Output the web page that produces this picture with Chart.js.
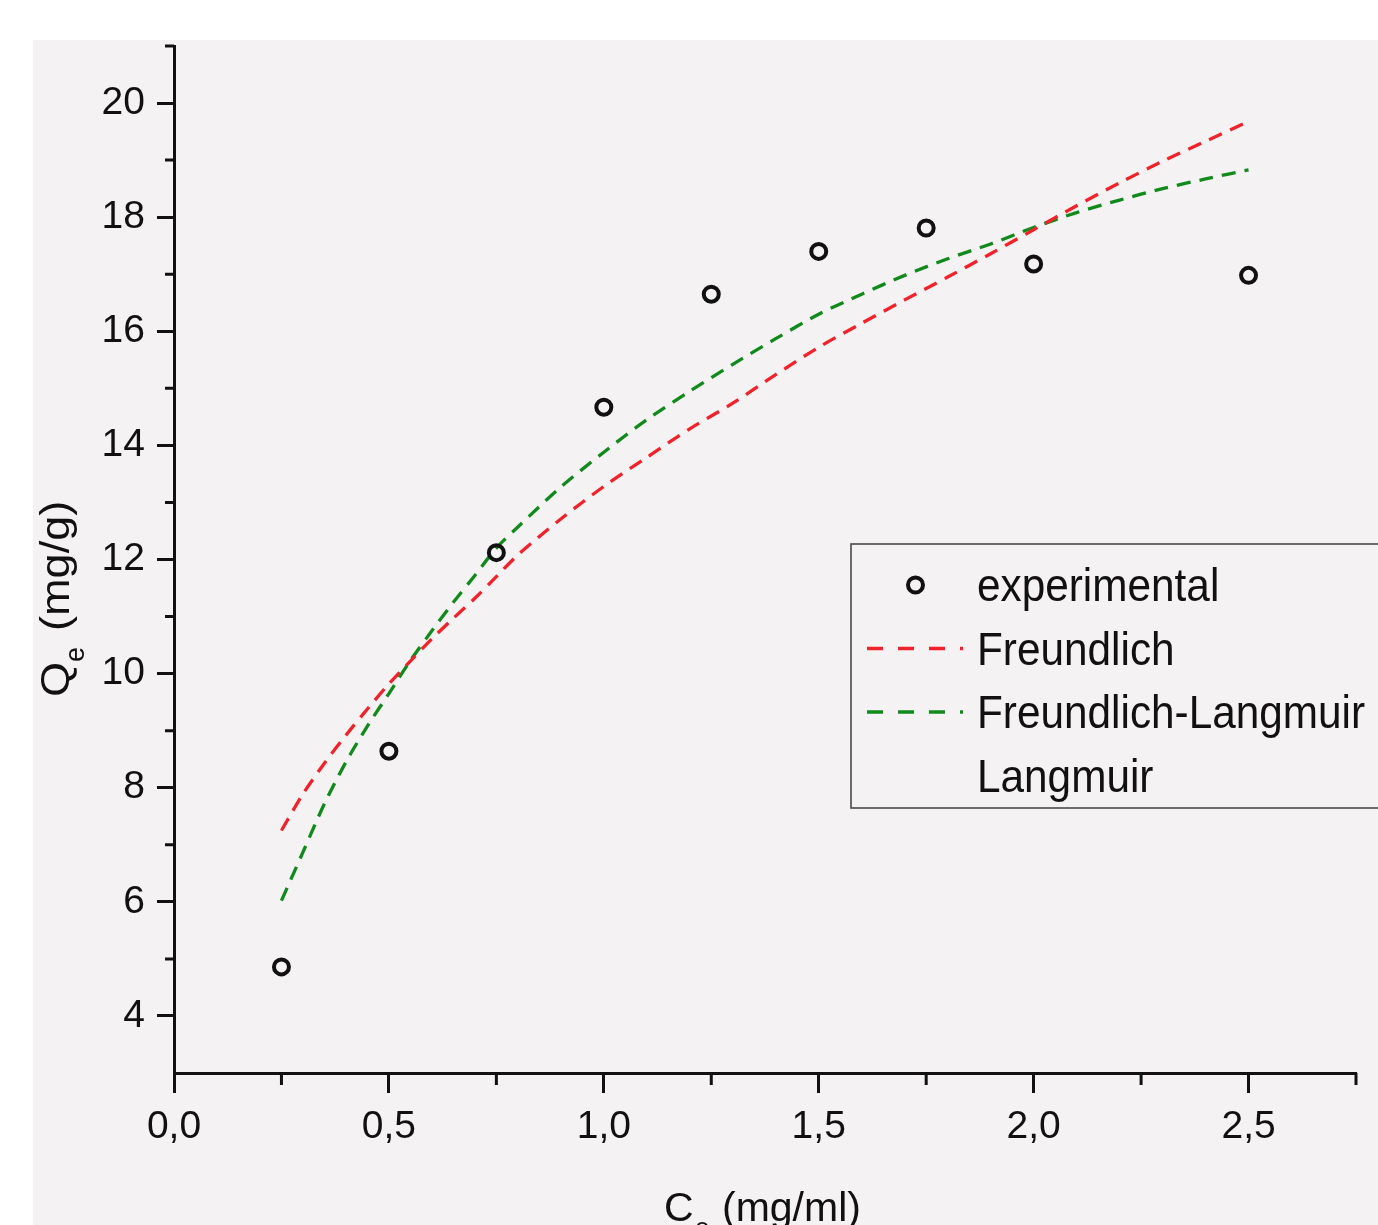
<!DOCTYPE html>
<html><head><meta charset="utf-8">
<style>html,body{margin:0;padding:0;background:#fff;overflow:hidden}canvas{display:block}</style>
<script src="https://cdn.jsdelivr.net/npm/chart.js@4.4.1/dist/chart.umd.min.js"></script>
</head><body>
<canvas id="c" width="1378" height="1225" style="width:1378px;height:1225px"></canvas>
<script>
// ---- data ----
const expC = [0.25, 0.5, 0.75, 1.0, 1.25, 1.5, 1.75, 2.0, 2.5];
const expQ = [4.86, 8.64, 12.12, 14.67, 16.65, 17.40, 17.81, 17.18, 16.98];

const fitC = [0.25, 0.30, 0.35, 0.40, 0.45, 0.50, 0.55, 0.60, 0.65, 0.70, 0.75, 0.80, 0.90, 1.00, 1.10, 1.20, 1.30, 1.40, 1.50, 1.60, 1.70, 1.80, 1.90, 2.00, 2.10, 2.20, 2.30, 2.40, 2.50];
const freundlichQ = [7.25, 7.89, 8.43, 8.92, 9.38, 9.82, 10.22, 10.61, 10.97, 11.32, 11.70, 12.08, 12.71, 13.28, 13.79, 14.29, 14.74, 15.24, 15.72, 16.14, 16.55, 16.95, 17.36, 17.78, 18.20, 18.60, 18.98, 19.33, 19.68];
const freundlichLangmuirQ = [6.02, 6.87, 7.72, 8.45, 9.08, 9.65, 10.23, 10.75, 11.25, 11.72, 12.20, 12.57, 13.27, 13.88, 14.45, 14.95, 15.42, 15.87, 16.30, 16.65, 16.98, 17.27, 17.53, 17.82, 18.08, 18.30, 18.50, 18.67, 18.83];
const langmuirQ = [];

const seriesLabels = ['experimental', 'Freundlich', 'Freundlich-Langmuir', 'Langmuir'];

const xTickValues = [0, 0.5, 1.0, 1.5, 2.0, 2.5];
const xTickLabels = ['0,0', '0,5', '1,0', '1,5', '2,0', '2,5'];
const xMinorValues = [0.25, 0.75, 1.25, 1.75, 2.25, 2.75];
const yTickValues = [4, 6, 8, 10, 12, 14, 16, 18, 20];
const yTickLabels = ['4', '6', '8', '10', '12', '14', '16', '18', '20'];
const yMinorValues = [5, 7, 9, 11, 13, 15, 17, 19, 21];

const xTitleMain = 'C';
const xTitleSub = 'e';
const xTitleUnit = '(mg/ml)';
const yTitleMain = 'Q';
const yTitleSub = 'e';
const yTitleUnit = '(mg/g)';

// ---- styling ----
const INK = '#111111';
const RED = '#f2222a';
const GREEN = '#118a1c';
const FONT = '"Liberation Sans", Arial, sans-serif';
const BG = '#f4f2f2';
const DASH = [14, 9];

const toXY = (xs, ys) => xs.map((x, i) => ({x: x, y: ys[i]})).filter(p => p.y !== undefined);

const bgPlugin = {
  id: 'bg',
  beforeDraw(chart) {
    const ctx = chart.ctx;
    ctx.save();
    ctx.fillStyle = '#ffffff';
    ctx.fillRect(0, 0, chart.width, chart.height);
    ctx.fillStyle = BG;
    ctx.fillRect(33, 40, chart.width - 33, chart.height - 40);
    ctx.restore();
  }
};

const decorPlugin = {
  id: 'decor',
  afterDraw(chart) {
    const ctx = chart.ctx;
    const xs = chart.scales.x, ys = chart.scales.y;
    const area = chart.chartArea;
    ctx.save();
    // minor ticks
    ctx.strokeStyle = INK;
    ctx.lineWidth = 3;
    ctx.beginPath();
    xMinorValues.forEach(v => {
      const px = xs.getPixelForValue(v);
      ctx.moveTo(px, area.bottom);
      ctx.lineTo(px, area.bottom + 12);
    });
    yMinorValues.forEach(v => {
      const py = ys.getPixelForValue(v);
      ctx.moveTo(area.left, py);
      ctx.lineTo(area.left - 9, py);
    });
    ctx.stroke();

    // axis titles
    ctx.fillStyle = INK;
    ctx.textBaseline = 'alphabetic';
    ctx.textAlign = 'left';
    ctx.font = '41px ' + FONT;
    ctx.fillText(xTitleMain, 664, 1221);
    ctx.font = '26px ' + FONT;
    ctx.fillText(xTitleSub, 695, 1236);
    ctx.font = '41px ' + FONT;
    ctx.fillText(xTitleUnit, 722, 1221);

    ctx.save();
    ctx.translate(69, 697);
    ctx.rotate(-Math.PI / 2);
    ctx.font = '41px ' + FONT;
    ctx.save(); ctx.scale(1.1, 1); ctx.fillText(yTitleMain, 0, 0); ctx.restore();
    ctx.font = '27px ' + FONT;
    ctx.fillText(yTitleSub, 35, 15);
    ctx.font = '41px ' + FONT;
    ctx.save(); ctx.translate(66, 0); ctx.scale(1.1, 1); ctx.fillText(yTitleUnit, 0, 0); ctx.restore();
    ctx.restore();

    // legend
    const lx = 851, ly = 544, lh = 264;
    ctx.fillStyle = BG;
    ctx.fillRect(lx, ly, chart.width - lx + 10, lh);
    ctx.strokeStyle = '#4a4a4a';
    ctx.lineWidth = 1.6;
    ctx.strokeRect(lx, ly, chart.width - lx + 20, lh);
    chart.data.datasets.forEach((ds, i) => {
      const base = 601 + i * 63.5;
      const my = base - 16;
      if (ds.showLine === false) {
        ctx.beginPath();
        ctx.arc(915.5, 585, 7.5, 0, Math.PI * 2);
        ctx.strokeStyle = INK;
        ctx.lineWidth = 4;
        ctx.stroke();
      } else if (ds.borderWidth > 0) {
        ctx.save();
        ctx.strokeStyle = ds.borderColor;
        ctx.lineWidth = 3.3;
        ctx.setLineDash([16, 15]);
        ctx.beginPath();
        ctx.moveTo(867, my);
        ctx.lineTo(963, my);
        ctx.stroke();
        ctx.restore();
      }
      ctx.save();
      ctx.fillStyle = INK;
      ctx.font = '46px ' + FONT;
      ctx.translate(977, base);
      ctx.scale(0.92, 1);
      ctx.fillText(ds.label, 0, 0);
      ctx.restore();
    });
    ctx.restore();
  }
};

new Chart(document.getElementById('c'), {
  type: 'line',
  data: {
    datasets: [
      {
        label: seriesLabels[0],
        data: toXY(expC, expQ),
        showLine: false,
        pointStyle: 'circle',
        pointRadius: 7.5,
        pointBorderWidth: 4,
        pointBorderColor: INK,
        pointBackgroundColor: 'rgba(0,0,0,0)',
        borderColor: INK
      },
      {
        label: seriesLabels[1],
        data: toXY(fitC, freundlichQ),
        borderColor: RED,
        borderWidth: 3.3,
        borderDash: DASH,
        pointRadius: 0,
        tension: 0.3,
        fill: false
      },
      {
        label: seriesLabels[2],
        data: toXY(fitC, freundlichLangmuirQ),
        borderColor: GREEN,
        borderWidth: 3.3,
        borderDash: DASH,
        pointRadius: 0,
        tension: 0.3,
        fill: false
      },
      {
        label: seriesLabels[3],
        data: toXY(fitC, langmuirQ),
        borderColor: 'rgba(0,0,0,0)',
        borderWidth: 0,
        pointRadius: 0
      }
    ]
  },
  options: {
    responsive: false,
    animation: false,
    devicePixelRatio: 1,
    layout: { padding: { left: 0, top: 46, right: 22, bottom: 0 } },
    plugins: { legend: { display: false }, tooltip: { enabled: false }, title: { display: false } },
    scales: {
      x: {
        type: 'linear',
        min: 0,
        max: 2.75,
        afterFit(scale) { scale.height = 152; },
        afterBuildTicks(scale) { scale.ticks = xTickValues.map(v => ({ value: v })); },
        border: { display: true, width: 3, color: INK },
        grid: { display: true, drawOnChartArea: false, drawTicks: true, tickLength: 20, tickWidth: 3, tickColor: INK },
        ticks: {
          font: { family: FONT, size: 39 },
          color: INK,
          padding: 11,
          maxRotation: 0,
          autoSkip: false,
          callback(v) { const i = xTickValues.findIndex(t => Math.abs(t - v) < 1e-9); return i >= 0 ? xTickLabels[i] : ''; }
        }
      },
      y: {
        type: 'linear',
        min: 3,
        max: 21,
        afterFit(scale) { scale.width = 174; },
        afterBuildTicks(scale) { scale.ticks = yTickValues.map(v => ({ value: v })); },
        border: { display: true, width: 3, color: INK },
        grid: { display: true, drawOnChartArea: false, drawTicks: true, tickLength: 17, tickWidth: 3, tickColor: INK },
        ticks: {
          font: { family: FONT, size: 39 },
          color: INK,
          padding: 12,
          autoSkip: false,
          callback(v) { const i = yTickValues.findIndex(t => Math.abs(t - v) < 1e-9); return i >= 0 ? yTickLabels[i] : ''; }
        }
      }
    }
  },
  plugins: [bgPlugin, decorPlugin]
});
</script>
</body></html>
